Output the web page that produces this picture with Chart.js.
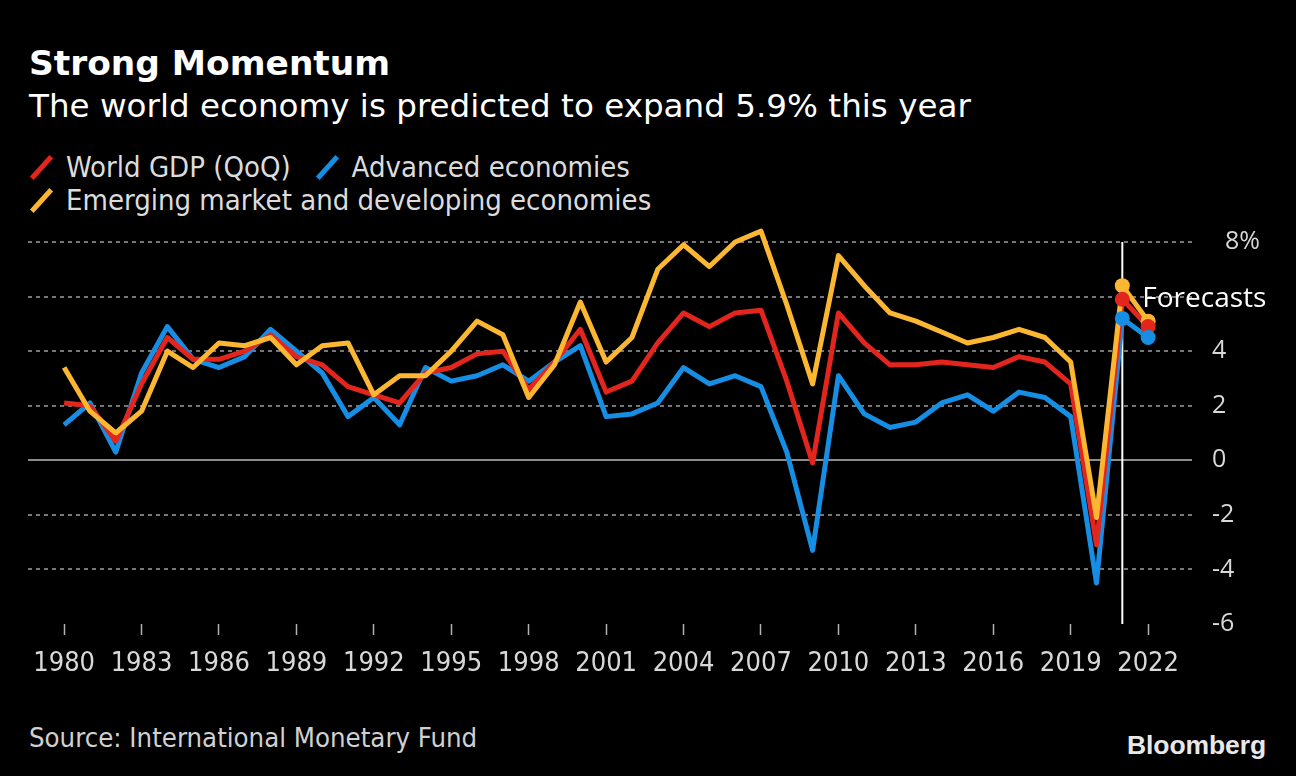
<!DOCTYPE html>
<html><head><meta charset="utf-8">
<script src="https://cdn.jsdelivr.net/npm/chart.js@4.4.0/dist/chart.umd.min.js"></script>
<style>
html,body{margin:0;padding:0;background:#000;width:1296px;height:776px;overflow:hidden;}
body{position:relative;color:#fff;}
#title{position:absolute;left:29px;top:46px;font:bold 34.4px/34px "DejaVu Sans";color:#fff;white-space:nowrap;}
#subtitle{position:absolute;left:29px;top:90px;font:32.6px/32px "DejaVu Sans";color:#fff;white-space:nowrap;}
#legend{position:absolute;left:28px;top:151px;width:660px;display:flex;flex-wrap:wrap;column-gap:23px;font:29px/33px "DejaVu Sans Condensed";font-stretch:condensed;color:#dcdcdc;}
.item{display:flex;align-items:center;white-space:nowrap;height:33px;}
.mark{display:inline-block;width:5px;height:29px;transform:rotate(42deg);margin:0 22px 0 11px;}
#wrap{position:absolute;left:0;top:220px;width:1296px;height:470px;}
#source{position:absolute;left:29px;top:722px;font:27.3px/32px "DejaVu Sans Condensed";font-stretch:condensed;color:#d0d0d0;white-space:nowrap;}
#logo{position:absolute;left:1127px;top:729px;font:bold 26.5px/32px "Liberation Sans";letter-spacing:-0.1px;color:#e8e8e8;white-space:nowrap;}
</style></head>
<body>
<div id="title">Strong Momentum</div>
<div id="subtitle">The world economy is predicted to expand 5.9% this year</div>
<div id="legend"></div>
<div id="wrap"><canvas id="c" width="1296" height="470"></canvas></div>
<div id="source">Source: International Monetary Fund</div>
<div id="logo">Bloomberg</div>
<script>
const years = [1980,1981,1982,1983,1984,1985,1986,1987,1988,1989,1990,1991,1992,1993,1994,1995,1996,1997,1998,1999,2000,2001,2002,2003,2004,2005,2006,2007,2008,2009,2010,2011,2012,2013,2014,2015,2016,2017,2018,2019,2020,2021,2022];
const worldGDP = [2.1,2.0,0.7,2.8,4.5,3.7,3.7,4.0,4.6,3.8,3.5,2.7,2.4,2.1,3.2,3.4,3.9,4.0,2.6,3.6,4.8,2.5,2.9,4.3,5.4,4.9,5.4,5.5,2.9,-0.1,5.4,4.3,3.5,3.5,3.6,3.5,3.4,3.8,3.6,2.8,-3.1,5.9,4.9];
const advanced = [1.3,2.1,0.3,3.2,4.9,3.7,3.4,3.8,4.8,4.0,3.2,1.6,2.3,1.3,3.4,2.9,3.1,3.5,2.9,3.6,4.2,1.6,1.7,2.1,3.4,2.8,3.1,2.7,0.3,-3.3,3.1,1.7,1.2,1.4,2.1,2.4,1.8,2.5,2.3,1.6,-4.5,5.2,4.5];
const emerging = [3.4,1.8,1.0,1.8,4.0,3.4,4.3,4.2,4.5,3.5,4.2,4.3,2.4,3.1,3.1,4.0,5.1,4.6,2.3,3.5,5.8,3.6,4.5,7.0,7.9,7.1,8.0,8.4,5.7,2.8,7.5,6.4,5.4,5.1,4.7,4.3,4.5,4.8,4.5,3.6,-2.1,6.4,5.1];
const seriesNames = ["World GDP (QoQ)","Advanced economies","Emerging market and developing economies"];
const seriesColors = ["#e2251d","#168ee3","#fcb732"];
const xTickYears = [1980,1983,1986,1989,1992,1995,1998,2001,2004,2007,2010,2013,2016,2019,2022];
const yTickValues = [-6,-4,-2,0,2,4,6,8];
const yTickLabels = ["-6","-4","-2","0","2","4","","  8%"];
const forecastStart = 2021;
const forecastLabel = "Forecasts";

// legend (HTML)
const lg = document.getElementById('legend');
seriesNames.forEach((n,i)=>{
  const it=document.createElement('div');it.className='item';
  const m=document.createElement('span');m.className='mark';m.style.background=seriesColors[i];
  const t=document.createElement('span');t.textContent=n;
  it.appendChild(m);it.appendChild(t);lg.appendChild(it);
});

const seriesVals=[worldGDP,advanced,emerging];
const pts=v=>years.map((y,i)=>({x:y,y:v[i]}));
const fpts=v=>pts(v).filter(p=>p.x>=forecastStart);
const lineDs=(i)=>({data:pts(seriesVals[i]),borderColor:seriesColors[i],backgroundColor:seriesColors[i],borderWidth:5,pointRadius:0,tension:0,borderJoinStyle:'round',borderCapStyle:'butt',clip:false});
const dotDs=(i)=>({data:fpts(seriesVals[i]),showLine:false,pointRadius:7.5,pointBorderWidth:0,pointBackgroundColor:seriesColors[i],borderColor:seriesColors[i],clip:false});

const forecastPlugin={
  id:'forecast',
  beforeDatasetsDraw(chart){
    const {ctx,chartArea,scales}=chart;const x=scales.x.getPixelForValue(forecastStart);
    ctx.save();ctx.strokeStyle='#ffffff';ctx.lineWidth=2;ctx.beginPath();ctx.moveTo(x,chartArea.top);ctx.lineTo(x,chartArea.bottom);ctx.stroke();ctx.restore();
  },
  afterDatasetsDraw(chart){
    const {ctx,scales}=chart;const x=scales.x.getPixelForValue(forecastStart);const y=scales.y.getPixelForValue(6);
    ctx.save();ctx.fillStyle='#ffffff';ctx.font='28px "Open Sans"';ctx.textAlign='left';ctx.textBaseline='alphabetic';ctx.fillText(forecastLabel,x+20,y+10);ctx.restore();
  }
};

new Chart(document.getElementById('c'),{
  type:'line',
  data:{datasets:[dotDs(1),dotDs(0),dotDs(2),lineDs(2),lineDs(0),lineDs(1)]},
  options:{
    responsive:false,animation:false,
    layout:{padding:{left:28,top:22,right:0,bottom:0}},
    plugins:{legend:{display:false},tooltip:{enabled:false}},
    scales:{
      x:{type:'linear',min:1978.6,max:2023.7,
        afterFit(s){s.height=66;s.paddingLeft=0;s.paddingRight=0;},
        afterBuildTicks(s){s.ticks=xTickYears.map(v=>({value:v}));},
        grid:{drawOnChartArea:false,drawTicks:true,tickLength:11,tickColor:'#b0b0b0',tickWidth:1.5},
        border:{display:false},
        ticks:{autoSkip:false,maxRotation:0,padding:13,color:'#d8d8d8',font:{family:'"DejaVu Sans Condensed"',size:27},callback:v=>String(v)}
      },
      y:{type:'linear',position:'right',min:-6,max:8,
        afterFit(s){s.width=104;s.paddingTop=0;s.paddingBottom=0;},
        afterBuildTicks(s){s.ticks=yTickValues.map(v=>({value:v}));},
        grid:{drawTicks:false,lineWidth:2,color:c=>c.tick&&c.tick.value===-6?'rgba(0,0,0,0)':(c.tick&&c.tick.value===0?'#8c8c8c':'#777777')},
        border:{display:false,dash:c=>c.tick&&c.tick.value===0?[]:[4,4]},
        ticks:{padding:20,color:'#d8d8d8',font:{family:'"Open Sans"',size:25},callback:(v)=>{const i=yTickValues.indexOf(v);return i>=0?yTickLabels[i]:'';}}
      }
    }
  },
  plugins:[forecastPlugin]
});
</script>
</body></html>
